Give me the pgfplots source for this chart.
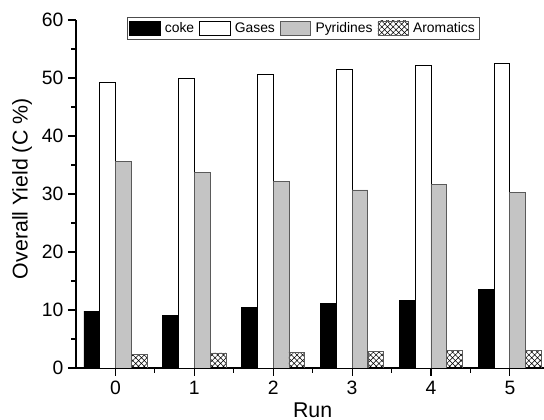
\documentclass[border=0pt]{standalone}
\usepackage{fontspec}
\setmainfont{Liberation Sans}
\usepackage{pgfplots}
\pgfplotsset{compat=1.18}
\usetikzlibrary{patterns.meta}
\definecolor{pyr}{RGB}{196,196,196}
\definecolor{pyredge}{RGB}{90,90,90}
\begin{document}
\begin{tikzpicture}
\begin{axis}[
  at={(0,0)}, anchor=south west,
  scale only axis, width=355pt, height=261pt,
  xmin=-0.5, xmax=5.5, ymin=0, ymax=60,
  axis x line*=bottom, axis y line*=left,
  axis line style={line width=0.9pt},
  ybar=0pt, bar width=0.2,
  xtick={0,1,2,3,4,5}, minor xtick={0.5,1.5,2.5,3.5,4.5},
  ytick={0,10,20,30,40,50,60}, minor ytick={5,15,25,35,45,55},
  tick align=outside, major tick length=6pt, minor tick length=3.5pt,
  tick style={black, line width=0.8pt},
  /pgf/number format/assume math mode=true,
  ticklabel style={font=\fontsize{14.5}{16}\selectfont},
  xlabel={Run}, ylabel={Overall Yield (C \%)},
  every axis x label/.style={at={(axis description cs:0.5,0)}, anchor=base, yshift=-37pt, font=\fontsize{16}{18}\selectfont},
  every axis y label/.style={at={(axis description cs:-0.114,0.515)}, rotate=90, anchor=center, font=\fontsize{16}{18}\selectfont},
  legend columns=4,
  legend style={at={(axis description cs:0.1076,1.0086)}, anchor=north west,
    draw=black!70, line width=0.5pt, inner sep=1.5pt,
    font=\fontsize{10.4}{12}\selectfont,
    nodes={font=\fontsize{10.4}{12}\selectfont, inner sep=2.2pt},
    /tikz/every odd column/.append style={column sep=1pt},
    /tikz/every even column/.append style={column sep=1.5pt}},
  legend image code/.code={\draw[#1] (0pt,-5.5pt) rectangle (23pt,5.5pt);},
]
\addplot[fill=black, draw=black, line width=0.5pt] coordinates {(0,9.8) (1,9.0) (2,10.5) (3,11.2) (4,11.6) (5,13.5)};
\addplot[fill=white, draw=black, line width=0.6pt] coordinates {(0,49.2) (1,49.9) (2,50.6) (3,51.5) (4,52.2) (5,52.5)};
\addplot[fill=pyr, draw=pyredge, line width=0.6pt] coordinates {(0,35.6) (1,33.7) (2,32.1) (3,30.7) (4,31.7) (5,30.2)};
\addplot[draw=pyredge, line width=0.5pt, pattern={Hatch[angle=45,distance=3pt,line width=0.4pt]}] coordinates {(0,2.4) (1,2.6) (2,2.7) (3,2.9) (4,3.0) (5,3.0)};
\legend{coke, Gases, Pyridines, Aromatics}
\end{axis}
\pgfresetboundingbox
\useasboundingbox (-57pt,-39pt) rectangle (351pt,276pt);
\end{tikzpicture}
\end{document}
